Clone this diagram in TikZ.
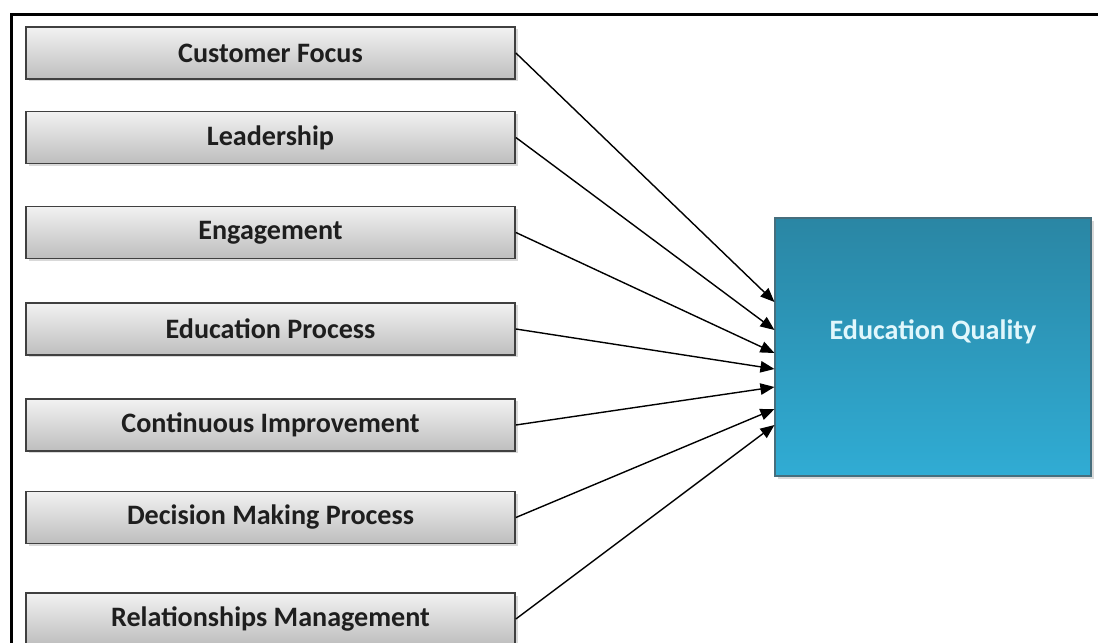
\documentclass[tikz,border=0pt]{standalone}
\usepackage{fontspec}
\setmainfont{Carlito}
\usetikzlibrary{arrows.meta,shadows}

\definecolor{factortop}{RGB}{242,242,242}
\definecolor{factorbottom}{RGB}{190,190,190}
\definecolor{factorline}{RGB}{64,64,64}
\definecolor{factortext}{RGB}{30,30,30}
\definecolor{qualitytop}{RGB}{42,134,164}
\definecolor{qualitybottom}{RGB}{48,172,212}
\definecolor{qualityline}{RGB}{70,110,125}
\definecolor{qualitytext}{RGB}{225,247,252}

\begin{document}
\begin{tikzpicture}[
    factor/.style={draw=factorline,line width=1pt,
        top color=factortop,bottom color=factorbottom,
        minimum width=9.78cm,minimum height=1.04cm,
        text=factortext,font=\fontsize{16}{19}\selectfont\bfseries,
        drop shadow={shadow xshift=0.05cm,shadow yshift=-0.05cm,opacity=0.3}},
    quality/.style={draw=qualityline,line width=0.6pt,
        top color=qualitytop,bottom color=qualitybottom,
        minimum width=6.32cm,minimum height=5.16cm,
        drop shadow={shadow xshift=0.06cm,shadow yshift=-0.06cm,opacity=0.3}},
    link/.style={-{Triangle[length=8pt,width=6.5pt]},line width=0.8pt,black}]
\useasboundingbox (0,0) rectangle (21.96,12.84);

\draw [line width=0.06cm] (0.22,-0.2) -- (0.22,12.54) -- (22.2,12.54);

\node [factor] (customer)    at (5.41,11.78) {Customer Focus};
\node [factor] (leadership)  at (5.41,10.09) {Leadership};
\node [factor] (engagement)  at (5.41, 8.19) {Engagement};
\node [factor] (process)     at (5.41, 6.26) {Education Process};
\node [factor] (improvement) at (5.41, 4.34) {Continuous Improvement};
\node [factor] (decision)    at (5.41, 2.49) {Decision Making Process};
\node [factor] (relations)   at (5.41, 0.46) {Relationships Management};

\node [quality] (eduquality) at (18.66,5.90)
    [label={[yshift=0.3cm,text=qualitytext,
             font=\fontsize{16}{19}\selectfont\bfseries]center:Education Quality}] {};

\draw [link] (customer.east)    -- ([yshift= 0.90cm]eduquality.west);
\draw [link] (leadership.east)  -- ([yshift= 0.34cm]eduquality.west);
\draw [link] (engagement.east)  -- ([yshift=-0.12cm]eduquality.west);
\draw [link] (process.east)     -- ([yshift=-0.44cm]eduquality.west);
\draw [link] (improvement.east) -- ([yshift=-0.80cm]eduquality.west);
\draw [link] (decision.east)    -- ([yshift=-1.24cm]eduquality.west);
\draw [link] (relations.east)   -- ([yshift=-1.56cm]eduquality.west);
\end{tikzpicture}
\end{document}
